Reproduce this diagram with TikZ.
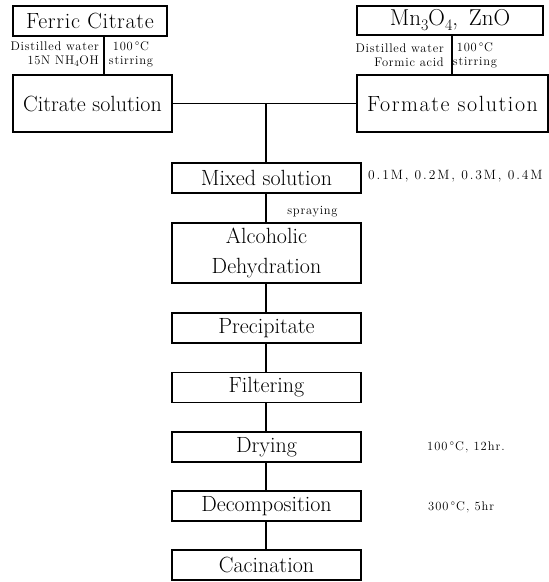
\documentclass[tikz,border=0pt]{standalone}
\usepackage{fontspec}
\setmainfont{Latin Modern Roman}
\newcommand\mysub[1]{\raisebox{-0.22em}{\fontsize{16}{16}\selectfont #1}}
\begin{document}
\begin{tikzpicture}[x=1pt,y=-1pt,
  box/.style={draw, line width=1.1pt, inner sep=0pt, align=center,
    font=\fontsize{22}{30}\selectfont},
  chain/.style={box, minimum width=189pt, minimum height=30pt},
  conn/.style={line width=1.1pt},
  small/.style={font=\fontsize{12.5}{14}\selectfont\addfontfeature{LetterSpace=6}, inner sep=0pt, align=center},
  note/.style={font=\fontsize{12.5}{14}\selectfont\addfontfeature{LetterSpace=8}, inner sep=0pt, anchor=west}]
\useasboundingbox (0,0) rectangle (549,582);
% top left
\node[box, minimum width=154pt, minimum height=30pt, font=\fontsize{22}{24}\selectfont\addfontfeature{LetterSpace=3}] (ferric) at (90,21) {Ferric Citrate};
\node[box, minimum width=159pt, minimum height=57pt] (citrate) at (92.5,103.5) {Citrate solution};
% top right
\node[box, minimum width=186pt, minimum height=29pt, font=\fontsize{23}{24}\selectfont] (mn) at (450,20.5) {Mn\mysub{3}O\mysub{4}, \,ZnO};
\node[box, minimum width=191pt, minimum height=57pt, font=\fontsize{22}{24}\selectfont\addfontfeature{LetterSpace=7}] (formate) at (452.5,103.5) {Formate solution};
% chain
\node[chain] (mixed) at (266.5,178) {Mixed solution};
\node[chain, minimum height=60pt] (alc) at (266.5,253) {Alcoholic\\Dehydration};
\node[chain] (prec) at (266.5,328) {Precipitate};
\node[chain] (filt) at (266.5,387.5) {Filtering};
\node[chain] (dry) at (266.5,447) {Drying};
\node[chain] (dec) at (266.5,506) {Decomposition};
\node[chain] (cac) at (266.5,565) {Cacination};
% connectors
\coordinate (lx) at (104,0);
\coordinate (rx) at (452,0);
\coordinate (cx) at (266,0);
\draw[conn] (ferric.south -| lx) -- (citrate.north -| lx);
\draw[conn] (mn.south -| rx) -- (formate.north -| rx);
\draw[conn] (citrate.east) -- (formate.west);
\draw[conn] (citrate.east -| cx) -- (mixed.north -| cx);
\draw[conn] (mixed.south -| cx) -- (alc.north -| cx);
\draw[conn] (alc.south -| cx) -- (prec.north -| cx);
\draw[conn] (prec.south -| cx) -- (filt.north -| cx);
\draw[conn] (filt.south -| cx) -- (dry.north -| cx);
\draw[conn] (dry.south -| cx) -- (dec.north -| cx);
\draw[conn] (dec.south -| cx) -- (cac.north -| cx);
% small labels
\node[small, anchor=east, align=right] (lw) at (99,54.5) {Distilled water\\15N NH\textsubscript{4}OH};
\node[small] (lt) at (131,54.5) {100\,°C\\stirring};
\node[small, anchor=east, align=right] (rw) at (444,55) {Distilled water\\Formic acid};
\node[small] (rt) at (475,55) {100\,°C\\stirring};
\node[small] (spray) at (312.5,212) {spraying};
% notes
\node[note, font=\fontsize{13.5}{15}\selectfont\addfontfeature{LetterSpace=14}] (n1) at (368,176) {0.1M, 0.2M, 0.3M, 0.4M};
\node[note] (n2) at (427,447) {100\,°C, 12hr.};
\node[note] (n3) at (428,507) {300\,°C, 5hr};
\end{tikzpicture}
\end{document}
